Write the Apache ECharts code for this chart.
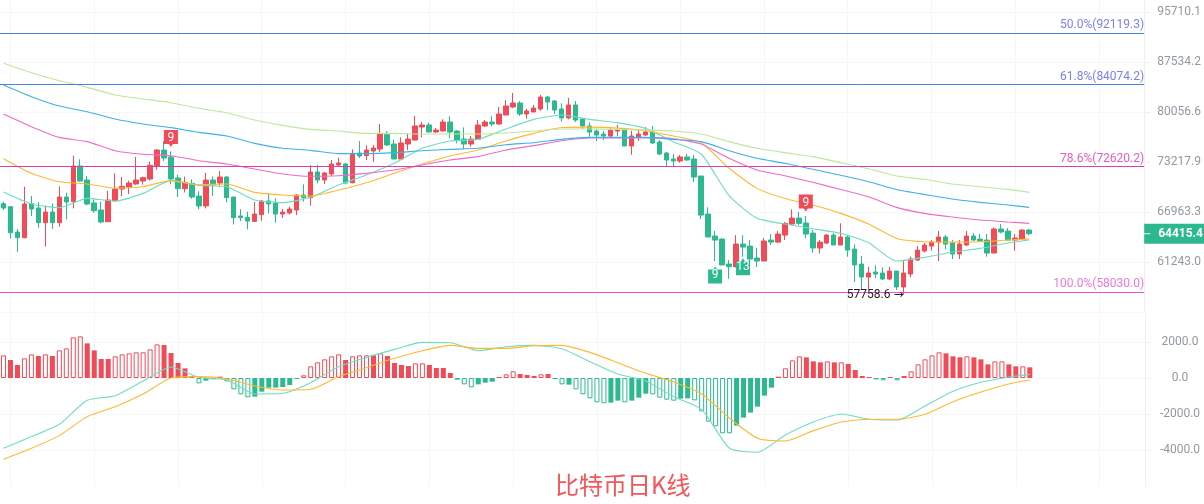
<!DOCTYPE html>
<html>
<head>
<meta charset="utf-8">
<title>比特币日K线</title>
<script src="https://cdn.jsdelivr.net/npm/echarts@6/dist/echarts.min.js"></script>
<style>
  html, body { margin: 0; padding: 0; background: #fff; }
  #main { width: 1204px; height: 504px; }
</style>
</head>
<body>
<div id="main"></div>
<script>
// open, close, low, high
const candles = [
  [67970,67440,67200,68210],[67600,64530,63880,67690],[64610,63960,62370,64960],[63960,67930,63880,70060],
  [67970,67320,66480,68900],[67440,65700,65110,68130],[65700,66960,62940,67730],[66960,65700,64990,68010],
  [65700,68780,65230,70100],[68780,68170,66090,69310],[68210,72700,67400,74050],[72700,70770,70690,73570],
  [70900,67930,67770,71410],[68050,67120,66880,68490],[67200,65780,65620,68210],[65810,68410,65780,69520],
  [68330,69770,68210,71750],[69770,70100,68900,71280],[70020,70520,69150,70820],[70400,70900,70270,73880],
  [70770,71200,70310,71330],[71030,72790,70820,73260],[72700,74800,72220,74930],[74800,73740,73350,76010],
  [73880,71030,70400,74620],[71160,69810,68780,71580],[69810,70610,69350,71330],[70480,68780,68570,70980],
  [68900,67690,67280,69480],[67690,70900,67400,71800],[70900,70270,68900,71370],[70520,71280,70140,72050],
  [71280,68700,68130,71410],[68780,66290,65500,68780],[66490,66290,65890,67280],[66330,65890,64920,67000],
  [65850,66720,65780,68170],[66640,68290,65930,68410],[68290,67930,66800,69230],[68050,66720,65700,68610],
  [66720,66960,66250,67320],[66840,67320,66680,67600],[67200,69030,66600,69110],[69030,68700,68210,70350],
  [68700,71920,67730,72790],[71920,70900,70480,72830],[70900,71800,70400,71920],[71670,72960,71410,73480],
  [72830,73090,72660,73790],[72960,70520,70350,73090],[70560,74360,70480,74890],[74400,74010,73740,76010],
  [74050,74800,73480,75430],[74670,75070,73260,75480],[74930,76970,74540,78360],[76880,75480,75340,77380],
  [75610,73610,73610,76200],[73610,75750,73610,76510],[75610,76280,74800,76970],[76150,78080,76060,79490],
  [77940,78220,76510,78640],[78220,77250,77250,78550],[77250,77520,77110,77800],[77380,78640,77340,79010],
  [78640,77250,76420,79440],[77380,76150,75700,77520],[76280,75610,74930,77890],[75610,76280,75250,76700],
  [76240,78220,76150,78920],[78080,78640,77940,78920],[78640,78360,78030,79440],[78360,79770,78270,80780],
  [79630,80920,79630,81790],[80780,81350,80630,82820],[81350,79770,79490,81650],[79770,80200,79110,80490],
  [80060,80630,80060,81070],[80490,82230,80250,82530],[82230,81500,80340,82380],[81650,80340,79770,81790],
  [80490,79210,78690,81310],[79210,81070,79010,82080],[81070,78920,78640,81650],[79060,78080,77660,79210],
  [78080,77250,76610,78590],[77380,76830,76010,77660],[76970,76700,76150,77380],[76700,77520,76420,77800],
  [77380,77520,76700,78220],[77520,75340,75340,77660],[75340,76700,74180,77430],[76560,76970,76010,77520],
  [76830,77250,76700,77940],[77250,75750,75610,78080],[75880,74270,74140,76150],[74400,73480,72570,74540],
  [73610,73350,72570,74270],[73350,73880,73130,74140],[73880,73480,73350,74270],[73610,71280,70650,74140],
  [71410,66600,66130,71410],[66720,64040,64040,67520],[64150,63690,61350,64730],[63800,60920,60920,63920],
  [61020,60730,59440,61460],[60730,63240,60650,64260],[63240,62900,61830,64230],[63010,61570,60730,63690],
  [61680,61350,60690,62820],[61350,63580,61350,63920],[63690,63460,63130,64380],[63460,64380,63350,64730],
  [64260,65620,63690,65780],[65540,66250,65460,67280],[66250,65620,65420,66970],[65660,64380,63880,66490],
  [64490,62790,62270,64840],[62790,63460,62190,63690],[63350,64260,63240,64380],[64260,63130,63130,64490],
  [63130,64040,63130,65620],[64040,62560,61830,64260],[62670,60920,59090,63200],[61020,59620,58250,61900],
  [59620,60050,58250,60730],[60160,59940,59510,60880],[60050,59410,59300,60660],[59410,60260,59300,60730],
  [60260,58570,58250,60260],[58570,60050,57758.6,61350],[59940,61570,59580,61830],[61460,62560,61350,63010],
  [62450,63130,62300,63350],[63010,63460,62490,63690],[63460,64040,61350,64730],[64040,63240,62640,64260],
  [63350,62120,61570,63690],[62120,63240,61570,63690],[63130,64150,63010,64730],[64150,63690,63620,64490],
  [63800,63580,63500,64380],[63690,62230,61830,64380],[62230,64960,62230,65150],[64960,64610,64460,65540],
  [64730,63690,63690,65070],[63690,63920,62490,64380],[63800,64840,63770,64920],[64840,64415.4,64230,64960]
];

const lineIndex = [0,4,8,12,16,20,24,28,32,36,40,44,48,52,56,60,64,68,72,76,80,84,88,92,96,100,104,108,112,116,120,124,128,132,136,140,144,147];

const maTeal = [69390,67930,67480,68610,68290,69230,70820,70230,70060,68410,68090,68740,70270,71540,73050,75030,76010,76240,77660,79010,79630,79010,78550,77750,75930,74270,68940,66210,65540,64990,64460,63390,61350,61750,62340,62750,63350,63690];
const maOrange = [73650,71750,70690,70400,69890,70060,70820,70310,70400,69350,69030,68900,69640,70560,71750,72960,74010,74800,76010,77060,77870,77920,77780,77430,76700,75790,72400,69850,68610,67800,66800,65540,63880,63500,63460,63500,63690,63800];
const maPink = [79770,77990,76510,75930,74710,74230,74050,73390,72960,72310,71670,71370,71450,71750,72180,72830,73480,73920,74800,75390,76060,76420,76420,76470,76330,75610,73700,72180,71450,70610,69720,68820,67520,66800,66360,66010,65780,65620];
const maBlue = [84010,82280,80920,80100,79060,78360,77850,77200,76700,75700,75030,74760,74320,74320,74450,74710,74890,75030,75520,75790,76240,76510,76510,76510,76240,75930,74710,73700,73050,72270,71510,70690,69720,69090,68530,68130,67800,67520];
const maGreen = [87330,85880,84660,83660,82530,81940,81400,80590,79960,78920,78170,77610,77380,77060,77060,76970,76970,76970,77110,77380,77660,77660,77610,77520,77380,76970,75930,75030,74450,73920,73130,72350,71410,70990,70390,70060,69720,69350];

const macdBars = [1258,999,722,1092,1314,1221,1314,1221,1536,1647,2257,2313,1924,1536,1055,1055,1203,1314,1369,1425,1425,1591,1869,1832,1388,833,537,111,-296,-148,-74,74,-185,-629,-907,-1073,-1036,-759,-537,-537,-500,-389,-56,148,648,870,1036,1203,1314,999,1203,1258,1258,1258,1369,1221,833,722,666,814,814,722,555,555,278,-93,-352,-518,-352,-259,-204,56,204,370,222,167,111,204,222,-56,-352,-370,-629,-907,-1129,-1351,-1406,-1369,-1258,-1351,-1258,-1092,-870,-907,-1092,-1203,-1258,-1147,-1129,-1240,-1850,-2424,-2683,-3071,-3071,-2646,-2202,-1924,-1591,-981,-537,74,537,981,1203,1147,925,870,925,870,870,777,444,111,56,-74,-130,56,-130,111,370,759,1036,1258,1425,1369,1203,1147,1203,1147,1036,759,925,925,759,648,648,592];
// bars drawn as outlines
const macdHollow = [0,3,4,6,8,9,10,11,16,17,18,19,20,21,22,28,32,33,34,35,43,44,45,46,47,48,50,51,52,54,59,60,66,67,72,73,77,80,82,83,84,85,86,89,93,94,95,96,99,100,101,102,103,104,112,113,114,118,120,126,128,130,131,132,133,134,138,142,143,146];
const macdDif = [-3904,-3256,-2572,-1240,-981,-167,611,37,-111,-888,-851,-259,629,1147,1591,1980,1961,1517,1739,1813,1628,907,222,-167,-1036,-1739,-3904,-4126,-3164,-2442,-1998,-2294,-2331,-1554,-740,-241,56,204];
const macdDea = [-4514,-3904,-3201,-2146,-1591,-888,0,74,-56,-444,-666,-629,74,574,1092,1517,1813,1647,1647,1795,1813,1425,851,259,-222,-888,-2239,-3349,-3497,-2923,-2442,-2294,-2294,-2017,-1314,-777,-333,-111];

const priceTicks = [95710.1,87534.2,80056.6,73217.9,66963.3,61243.0];
const macdTicks = [2000,0,-2000,-4000];
const fibPercent = ['50.0%','61.8%','78.6%','100.0%'];
const fibPrice = [92119.3,84074.2,72620.2,58030.0];
const fibLine = ['#4B7FE0','#4B7FE0','#D93FB4','#FB4BD6'];
const fibText = ['#7B82EA','#7B82EA','#E65CC0','#EE78DC'];
const lastPrice = 64415.4;
const lowPrice = 57758.6;
const lowIndex = 129;

const UP = '#F04B57';
const DOWN = '#2CB990';
const GRID = '#F6F6F6';
const TICK = '#9199A3';
const slotCount = 164;
const slots = Array.from({ length: slotCount }, (_, i) => i);

const toLine = (values) => values.map((v, i) => [lineIndex[i], v]);
const lineSeries = (name, values, color, axis) => ({
  name, type: 'line', xAxisIndex: axis, yAxisIndex: axis, data: toLine(values),
  showSymbol: false, smooth: 0.2, z: 4, silent: true,
  lineStyle: { color, width: 1.1 }
});

const macdData = macdBars.map((v, i) => {
  const color = v >= 0 ? UP : DOWN;
  const hollow = macdHollow.includes(i);
  return {
    value: v,
    itemStyle: hollow ? { color: '#fff', borderColor: color, borderWidth: 1 } : { color }
  };
});

const FLAG_DOWN = 'path://M0,0H14V14H9L7,17L5,14H0Z';
const FLAG_UP = 'path://M0,3H5L7,0L9,3H14V17H0Z';
const flag = (i, text, up, offset) => ({
  coord: [i, up ? candles[i][2] : candles[i][3]],
  symbol: up ? FLAG_UP : FLAG_DOWN,
  symbolSize: [14, 17],
  symbolOffset: [0, offset],
  itemStyle: { color: up ? DOWN : UP },
  label: { show: true, position: 'inside', formatter: text, color: '#fff', fontSize: 12, fontFamily: 'Roboto' }
});

const fibLines = fibPrice.map((p, i) => ({
  yAxis: p,
  lineStyle: { color: fibLine[i], width: 1, type: 'solid' },
  label: {
    show: true, position: 'insideEndTop', distance: [0, 2],
    formatter: fibPercent[i] + '(' + p.toFixed(1) + ')',
    color: fibText[i], fontSize: 12, fontFamily: 'Roboto'
  }
}));

const tagLine = {
  yAxis: lastPrice,
  lineStyle: { color: 'transparent', width: 0 },
  label: {
    show: true, position: 'end', distance: 0,
    formatter: '{tick|}{val|' + lastPrice.toFixed(1) + '}',
    backgroundColor: DOWN, padding: [4, 3, 4, 0],
    rich: {
      tick: { width: 6, height: 1, backgroundColor: '#fff' },
      val: { color: '#fff', fontWeight: 'bold', fontSize: 12, fontFamily: 'Roboto', padding: [0, 0, 0, 8] }
    }
  }
};

const chart = echarts.init(document.getElementById('main'), null, { renderer: 'canvas' });
chart.setOption({
  animation: false,
  backgroundColor: '#fff',
  title: {
    text: '比特币日K线', left: 550, top: 468,
    textStyle: { color: '#F2565A', fontSize: 24, fontWeight: 'normal', fontFamily: '"Noto Sans CJK SC"' }
  },
  grid: [
    { left: -2.5, right: 59, top: 0, height: 312 },
    { left: -2.5, right: 59, top: 314, height: 173 }
  ],
  xAxis: [0, 1].map((g) => ({
    type: 'category', gridIndex: g, data: slots, boundaryGap: true,
    axisLine: { show: true, lineStyle: { color: GRID } },
    axisTick: { show: false }, axisLabel: { show: false },
    splitLine: {
      show: true, alignWithLabel: true,
      interval: (i) => (i - 1) % 12 === 0,
      lineStyle: { color: GRID }
    }
  })),
  yAxis: [
    {
      type: 'log', gridIndex: 0, position: 'right', min: 56012, max: 97785,
      axisLine: { show: true, lineStyle: { color: '#F0F0F0' } },
      axisTick: { show: true, length: 6, customValues: priceTicks, lineStyle: { color: '#F0F0F0' } },
      axisLabel: { customValues: priceTicks, margin: 35, align: 'center', color: TICK, fontSize: 12, fontFamily: 'Roboto', formatter: (v) => v.toFixed(1) },
      splitLine: { show: true, lineStyle: { color: GRID } }
    },
    {
      type: 'value', gridIndex: 1, position: 'right', min: -6056, max: 3556,
      axisLine: { show: true, lineStyle: { color: '#F0F0F0' } },
      axisTick: { show: true, length: 6, customValues: macdTicks, lineStyle: { color: '#F0F0F0' } },
      axisLabel: { customValues: macdTicks, margin: 35, align: 'center', color: TICK, fontSize: 12, fontFamily: 'Roboto', formatter: (v) => v.toFixed(1) },
      splitLine: { show: true, lineStyle: { color: GRID } }
    }
  ],
  series: [
    {
      name: 'K', type: 'candlestick', xAxisIndex: 0, yAxisIndex: 0, data: candles, barWidth: 5, z: 3,
      itemStyle: { color: UP, color0: DOWN, borderColor: UP, borderColor0: DOWN, borderWidth: 1 },
      markLine: {
        silent: true, symbol: 'none', z: 6, animation: false,
        data: fibLines.concat([tagLine])
      },
      markPoint: {
        silent: true, animation: false, z: 7,
        data: [
          flag(24, '9', false, -13),
          flag(115, '9', false, -13),
          flag(102, '9', true, 14),
          flag(106, '13', true, 10),
          {
            coord: [lowIndex, lowPrice], symbol: 'circle', symbolSize: 0,
            label: {
              show: true, position: 'left', distance: 0,
              formatter: lowPrice.toFixed(1) + ' {arrow|→}',
              color: '#222', fontSize: 12, fontFamily: 'Roboto',
              rich: { arrow: { color: '#222', fontSize: 12, fontFamily: 'DejaVu Sans' } }
            }
          }
        ]
      }
    },
    lineSeries('MA1', maTeal, '#6FDDC1', 0),
    lineSeries('MA2', maOrange, '#FFB833', 0),
    lineSeries('MA3', maPink, '#EE6CC6', 0),
    lineSeries('MA4', maBlue, '#3FB0EA', 0),
    lineSeries('MA5', maGreen, '#BFE69B', 0),
    { name: 'MACD', type: 'bar', xAxisIndex: 1, yAxisIndex: 1, data: macdData, barWidth: 5, z: 3 },
    lineSeries('DIF', macdDif, '#6FDDC1', 1),
    lineSeries('DEA', macdDea, '#FFB833', 1)
  ]
});
</script>
</body>
</html>
